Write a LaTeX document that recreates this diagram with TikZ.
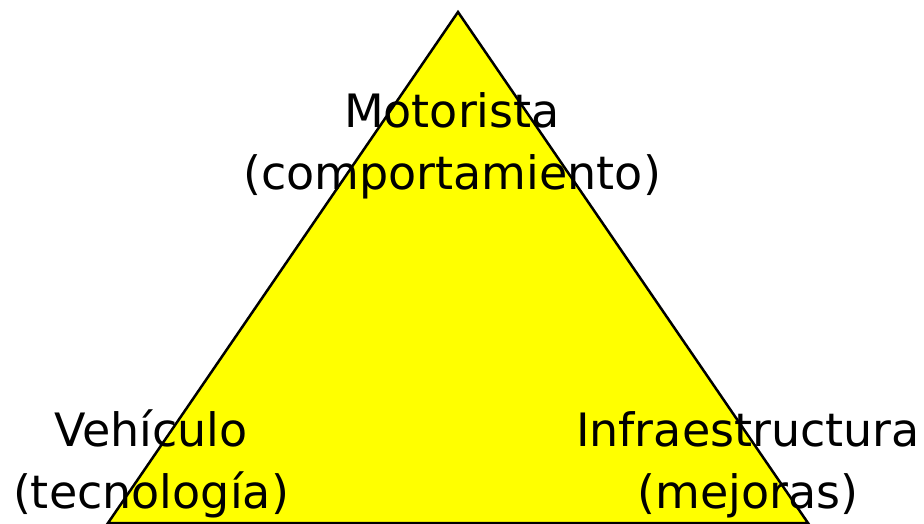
\documentclass[tikz,border=0pt]{standalone}
\usepackage{fontspec}
\setmainfont{DejaVu Sans}
\usepackage{xcolor}
\usepackage{tikz}
\usetikzlibrary{positioning}
\definecolor{pureyellow}{RGB}{255,255,0}

\begin{document}
\begin{tikzpicture}[x=1pt,y=1pt,
  every node/.style={align=center,anchor=base,inner sep=0pt,
    font=\fontsize{46}{62}\selectfont},
  side/.style={draw=black,line width=2.5pt,line join=miter,fill=pureyellow}]
  \useasboundingbox (0,0) rectangle (924,523);
  % vertices of the triangle
  \coordinate (top) at (458,511);
  \coordinate (left) at (108,0);
  \coordinate (right) at (808,0);
  \draw[side] (top) -- (left) -- (right) -- cycle;
  % the three corners
  \node (driver) at (452,333) {Motorista\\(comportamiento)};
  \node (vehicle) at (151,15) {Vehículo\\(tecnología)};
  \node (road) at (748,15) {Infraestructura\\(mejoras)};
\end{tikzpicture}
\end{document}
